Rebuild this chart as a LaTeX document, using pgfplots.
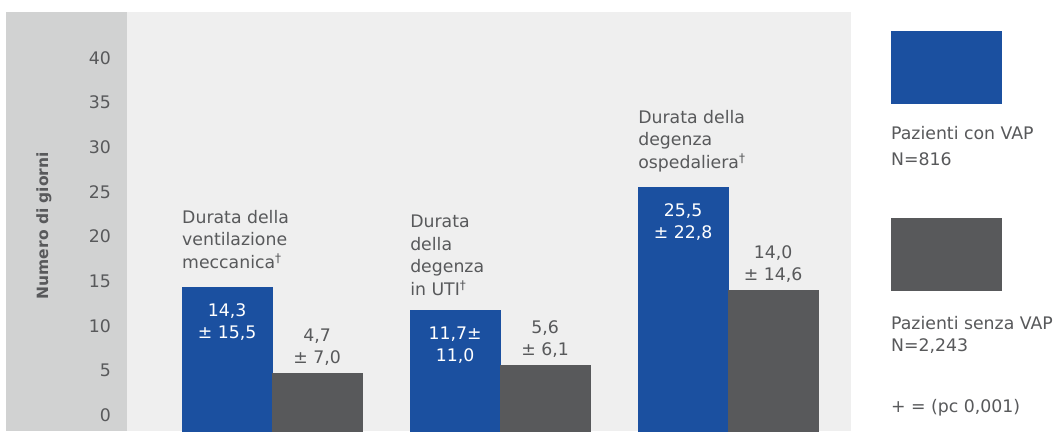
\documentclass[border=0pt]{standalone}
\usepackage{pgfplots}
\pgfplotsset{compat=1.18}
\usepackage{fontspec}
\setmainfont{DejaVu Sans}
\definecolor{vapblue}{RGB}{27,80,160}
\definecolor{vapgray}{RGB}{88,89,91}
\definecolor{txtgray}{RGB}{88,89,91}
\definecolor{strip}{RGB}{209,210,210}
\definecolor{bglight}{RGB}{239,239,239}
\newcommand{\dg}{{\fontsize{12}{12}\selectfont\raisebox{0.45em}{†}}}
\begin{document}
\begin{tikzpicture}[x=1pt,y=1pt]
\useasboundingbox (0,0) rectangle (1059,431);
\fill[white] (0,0) rectangle (1059,431);
\fill[strip] (6,0) rectangle (127,419);
\begin{axis}[
  at={(127pt,0pt)}, anchor=south west,
  scale only axis, width=724pt, height=419pt,
  xmin=-0.636, xmax=2.539, ymin=-1.793, ymax=45.15,
  axis background/.style={fill=bglight},
  axis line style={draw=none},
  major tick length=0pt,
  xtick=\empty,
  ytick={0,5,...,40},
  /pgf/number format/assume math mode=true,
  yticklabel style={font=\fontsize{17.3}{20}\selectfont, text=txtgray, inner sep=0pt, anchor=east, xshift=-16pt},
  ylabel={\textbf{Numero di giorni}},
  ylabel style={at={(axis description cs:-0.1146,0.49)}, anchor=center, font=\fontsize{15.5}{18}\selectfont, text=txtgray},
  clip=true,
]
% base extension below zero
\addplot[ybar, bar width=90pt, bar shift=-45pt, fill=vapblue, draw=vapblue, line width=0.2pt, forget plot] coordinates {(0,-3) (1,-3) (2,-3)};
\addplot[ybar, bar width=90pt, bar shift=45pt, fill=vapgray, draw=vapgray, line width=0.2pt, forget plot] coordinates {(0,-3) (1,-3) (2,-3)};
% Pazienti con VAP
\addplot[ybar, bar width=90pt, bar shift=-45pt, fill=vapblue, draw=vapblue, line width=0.2pt,
  point meta=explicit symbolic, nodes near coords,
  every node near coord/.append style={anchor=north, xshift=-45pt, yshift=-16pt, inner sep=0pt, align=center, text=white, font=\fontsize{17.3}{22}\selectfont}]
  coordinates {(0,14.3) [14,3\\± 15,5] (1,11.7) [11,7±\\11,0] (2,25.5) [25,5\\± 22,8]};
% Pazienti senza VAP
\addplot[ybar, bar width=90pt, bar shift=45pt, fill=vapgray, draw=vapgray, line width=0.2pt,
  point meta=explicit symbolic, nodes near coords,
  every node near coord/.append style={anchor=south, xshift=45pt, yshift=7pt, inner sep=0pt, align=center, text=txtgray, font=\fontsize{17.3}{22}\selectfont}]
  coordinates {(0,4.7) [4,7\\± 7,0] (1,5.6) [5,6\\± 6,1] (2,14.0) [14,0\\± 14,6]};
% category labels
\node[anchor=north west, inner sep=0pt, align=left, text=txtgray, font=\fontsize{17.3}{22.5}\selectfont] at (axis cs:-0.3947,22.97) {Durata della\\ventilazione\\meccanica\dg};
\node[anchor=north west, inner sep=0pt, align=left, text=txtgray, font=\fontsize{17.3}{22.5}\selectfont] at (axis cs:0.6053,22.41) {Durata\\della\\degenza\\in UTI\dg};
\node[anchor=north west, inner sep=0pt, align=left, text=txtgray, font=\fontsize{17.3}{22.5}\selectfont] at (axis cs:1.6053,34.17) {Durata della\\degenza\\ospedaliera\dg};
\end{axis}
% legend
\fill[vapblue] (891,327) rectangle (1002,400);
\fill[vapgray] (891,140) rectangle (1002,213);
\begin{scope}[every node/.style={anchor=base west, inner sep=0pt, text=txtgray, font=\fontsize{17.3}{20}\selectfont}]
\node at (891,291) {Pazienti con VAP};
\node at (891,265) {N=816};
\node at (891,102) {Pazienti senza VAP};
\node at (891,80) {N=2,243};
\node at (891,19) {+ = (pc 0,001)};
\end{scope}
\end{tikzpicture}
\end{document}
